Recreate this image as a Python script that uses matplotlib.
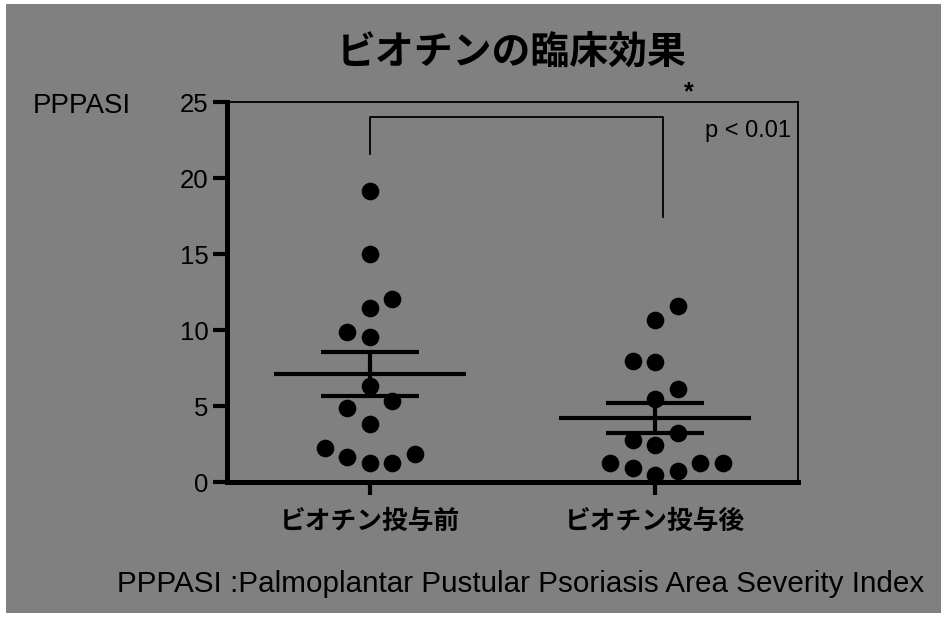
import numpy as np
import matplotlib
matplotlib.use('Agg')
import matplotlib.pyplot as plt
from matplotlib.patches import Rectangle

plt.rcParams['font.family'] = ['Liberation Sans', 'Noto Sans CJK JP', 'DejaVu Sans']

# data
groups = ['ビオチン投与前', 'ビオチン投与後']
before = [19.17, 15.0, 12.04, 11.43, 9.85, 9.56, 6.32, 5.33, 4.85, 3.79,
          2.26, 1.62, 1.23, 1.23, 1.82]
after = [11.58, 10.66, 7.98, 7.92, 6.12, 5.44, 3.20, 2.76, 2.43, 1.23,
         0.94, 1.23, 1.23, 0.72, 0.46]
means = [7.09, 4.19]
sems = [1.44, 0.99]
yticks = [0, 5, 10, 15, 20, 25]

# scatter columns (layout only)
before_slot = [0, 0, 1, 0, -1, 0, 0, 1, -1, 0, -2, -1, 0, 1, 2]
after_slot = [1, 0, -1, 0, 1, 0, 1, -1, 0, -2, -1, 2, 3, 1, 0]
step = 0.079

W, H = 944, 618
fig = plt.figure(figsize=(W / 100, H / 100), dpi=100, facecolor='white')
fig.patches.append(Rectangle((6 / W, 5 / H), 935 / W, 609 / H,
                             transform=fig.transFigure, facecolor='#808080',
                             edgecolor='none', zorder=-10))

ax = fig.add_axes([227 / W, (H - 482) / H, 571 / W, 380 / H])
ax.set_facecolor('none')
ax.set_xlim(-0.5, 1.5)
ax.set_ylim(0, 25)

for i, (vals, slots) in enumerate([(before, before_slot), (after, after_slot)]):
    xs = i + np.array(slots) * step
    ax.plot(xs, vals, 'o', color='black', ms=12.7, mew=0, clip_on=False, zorder=3)
    m, s = means[i], sems[i]
    ax.plot([i - 0.336, i + 0.336], [m, m], color='black', lw=3, solid_capstyle='butt', zorder=4)
    ax.plot([i - 0.171, i + 0.171], [m + s, m + s], color='black', lw=3, solid_capstyle='butt', zorder=4)
    ax.plot([i - 0.171, i + 0.171], [m - s, m - s], color='black', lw=3, solid_capstyle='butt', zorder=4)
    ax.plot([i, i], [m - s, m + s], color='black', lw=3, solid_capstyle='butt', zorder=4)

# significance bracket
ax.plot([0, 0, 1.028, 1.028], [21.56, 24.03, 24.03, 17.45], color='black', lw=1.3, clip_on=False)

ax.spines['left'].set_linewidth(3.6)
ax.spines['bottom'].set_linewidth(3.6)
ax.spines['top'].set_linewidth(1.3)
ax.spines['right'].set_linewidth(1.3)
for sp in ax.spines.values():
    sp.set_color('black')

ax.set_yticks(yticks)
ax.set_yticklabels([str(v) for v in yticks], fontsize=18.5)
ax.set_xticks([0, 1])
ax.set_xticklabels(groups, fontsize=18.5, fontweight='bold', family=['Noto Sans CJK JP'])
ax.tick_params(axis='y', length=10, width=3, pad=3.5, colors='black')
ax.tick_params(axis='x', length=9, width=3, pad=10, colors='black')

fig.text(512 / W, 1 - 52 / H, 'ビオチンの臨床効果', ha='center', va='center',
         fontsize=28, fontweight='bold', family=['Noto Sans CJK JP'])
fig.text(33 / W, 1 - 113 / H, 'PPPASI', ha='left', va='baseline', fontsize=20)
fig.text(705 / W, 1 - 137 / H, 'p < 0.01', ha='left', va='baseline', fontsize=17)
fig.text(689 / W, 1 - 92 / H, '*', ha='center', va='center', fontsize=18, fontweight='bold')
fig.text(117 / W, 1 - 592 / H, 'PPPASI :Palmoplantar Pustular Psoriasis Area Severity Index',
         ha='left', va='baseline', fontsize=21.3)

fig.savefig('out.png', dpi=100, facecolor='white')
